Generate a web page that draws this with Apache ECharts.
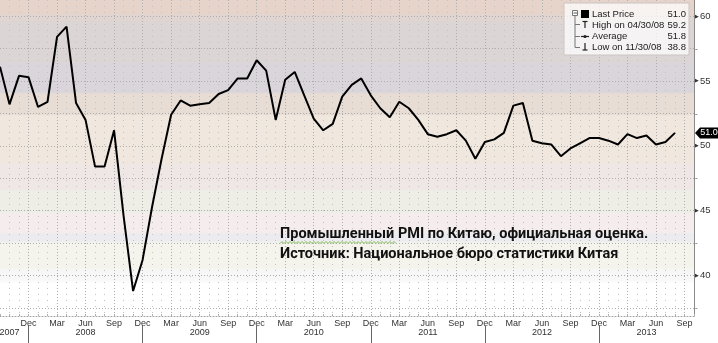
<!DOCTYPE html>
<html><head><meta charset="utf-8">
<script src="https://cdn.jsdelivr.net/npm/echarts@6/dist/echarts.min.js"></script>
<style>html,body{margin:0;padding:0;background:#fff}#c{width:718px;height:343px}</style>
</head><body><div id="c"></div>
<script>
const categories = [
 '2007-09','2007-10','2007-11','2007-12',
 '2008-01','2008-02','2008-03','2008-04','2008-05','2008-06','2008-07','2008-08','2008-09','2008-10','2008-11','2008-12',
 '2009-01','2009-02','2009-03','2009-04','2009-05','2009-06','2009-07','2009-08','2009-09','2009-10','2009-11','2009-12',
 '2010-01','2010-02','2010-03','2010-04','2010-05','2010-06','2010-07','2010-08','2010-09','2010-10','2010-11','2010-12',
 '2011-01','2011-02','2011-03','2011-04','2011-05','2011-06','2011-07','2011-08','2011-09','2011-10','2011-11','2011-12',
 '2012-01','2012-02','2012-03','2012-04','2012-05','2012-06','2012-07','2012-08','2012-09','2012-10','2012-11','2012-12',
 '2013-01','2013-02','2013-03','2013-04','2013-05','2013-06','2013-07','2013-08','2013-09','2013-10'
];
const pmi = [
 56.1,53.2,55.4,55.3,
 53.0,53.4,58.4,59.2,53.3,52.0,48.4,48.4,51.2,44.6,38.8,41.2,
 45.3,49.0,52.4,53.5,53.1,53.2,53.3,54.0,54.3,55.2,55.2,56.6,
 55.8,52.0,55.1,55.7,53.9,52.1,51.2,51.7,53.8,54.7,55.2,53.9,
 52.9,52.2,53.4,52.9,52.0,50.9,50.7,50.9,51.2,50.4,49.0,50.3,
 50.5,51.0,53.1,53.3,50.4,50.2,50.1,49.2,49.8,50.2,50.6,50.6,
 50.4,50.1,50.9,50.6,50.8,50.1,50.3,51.0
];
const monthTickLabels = {'03':'Mar','06':'Jun','09':'Sep','12':'Dec'};
const yearLabelAt = ['2007-10','2008-06','2009-06','2010-06','2011-06','2012-06','2013-05'];
const yMajorStep = 5, yGridStep = 2.5;
const legendNames = ['Last Price','High on','Average','Low on'];
const noteLines = ['Промышленный PMI по Китаю, официальная оценка.','Источник: Национальное бюро статистики Китая'];

// derived stats
const last = pmi[pmi.length-1];
const maxV = Math.max(...pmi), minV = Math.min(...pmi);
const avg = pmi.reduce((a,b)=>a+b,0)/pmi.length;
function endOfMonth(c){const y=+c.slice(0,4), m=+c.slice(5,7);const d=new Date(y,m,0).getDate();return c.slice(5,7)+'/'+d+'/'+c.slice(2,4);}
const maxDate = endOfMonth(categories[pmi.indexOf(maxV)]);
const minDate = endOfMonth(categories[pmi.indexOf(minV)]);

const isMult = (v,s)=>Math.abs(v/s-Math.round(v/s))<1e-6;
const mon = v=>v.slice(5,7);
const isQuarter = (i,v)=>i>0 && !!monthTickLabels[mon(v)];
const FONT = 'Liberation Sans';

const chart = echarts.init(document.getElementById('c'), null, {renderer:'canvas'});
const bands = [
 [0,'#e6d4cb'],[14,'#e6d4cb'],[15,'#e0d5d0'],[21,'#e0d5d0'],[22,'#dcd5d5'],[62,'#dcd5d5'],[63,'#dad5db'],[92,'#dad5db'],
 [94,'#e7ddd5'],[114,'#e7ddd5'],[116,'#f0e7de'],[163,'#f0e7de'],[165,'#efe6e6'],[189,'#efe6e6'],[191,'#eeeee7'],[212,'#eeeee7'],
 [214,'#f5eded'],[232,'#f5eded'],[234,'#ececf0'],[241,'#ececf0'],[243,'#f5f4ec'],[268,'#f5f4ec'],[270,'#f6f6f6'],[280,'#f8f8f8'],[284,'#ffffff'],[316,'#ffffff']
];
const bg = {type:'linear',x:0,y:0,x2:0,y2:1,colorStops:bands.map(b=>({offset:b[0]/316,color:b[1]}))};

const wavy = [];
for (let x=280, k=0; x<=397; x+=2, k++) wavy.push([x, k%2? 241.5:243.5]);

const option = {
  animation:false,
  backgroundColor:'#fff',
  grid:{left:0, top:0, right:24, bottom:27, show:true, borderWidth:0, backgroundColor:bg, containLabel:false, outerBoundsMode:'none'},
  xAxis:[{
    type:'category', data:categories, boundaryGap:false,
    axisLine:{show:true, lineStyle:{color:'#a0a0a0', type:[1,2]}},
    axisTick:{show:true, inside:true, length:2, interval:0, lineStyle:{color:'#b0b0b0'}},
    axisLabel:{interval:isQuarter, formatter:v=>monthTickLabels[mon(v)]||'', fontSize:9, color:'#333', margin:3, fontFamily:FONT},
    splitLine:{show:true, interval:isQuarter, lineStyle:{color:'#adadad', type:[1,2]}}
  },{
    type:'category', data:categories, boundaryGap:false, position:'bottom', offset:10,
    axisLine:{show:false},
    axisTick:{show:true, interval:(i,v)=>mon(v)==='12', length:17, lineStyle:{color:'#666'}},
    axisLabel:{interval:(i,v)=>yearLabelAt.includes(v), formatter:v=>v.slice(0,4), fontSize:9, color:'#333', margin:2, fontFamily:FONT},
    splitLine:{show:true, interval:(i,v)=>!monthTickLabels[mon(v)], lineStyle:{color:'#c2c2c2', type:[1,5]}}
  }],
  yAxis:{
    type:'value', position:'right', min:36.875, max:61.25, interval:0.625,
    axisLine:{show:true, lineStyle:{color:'#8a8a8a'}},
    axisTick:{show:false},
    splitLine:{show:true, lineStyle:{color:['rgba(0,0,0,0)','#adadad','rgba(0,0,0,0)','rgba(0,0,0,0)'], type:[1,2]}},
    axisLabel:{margin:1, fontFamily:FONT, color:'#333', fontSize:9,
      formatter:v=>isMult(v,yMajorStep)?'{t|▶}{n|'+Math.round(v)+'}':(isMult(v,yGridStep)?'{m|-}':''),
      rich:{t:{fontSize:5, color:'#333', padding:[0,1,0,0]}, n:{fontSize:9.5, color:'#333', fontFamily:FONT}, m:{fontSize:8, color:'#444'}}}
  },
  series:[{
    type:'line', data:pmi, xAxisIndex:0, symbol:'none', smooth:false,
    lineStyle:{color:'#000', width:2},
    markPoint:{
      symbol:'path://M0,5 L5,0 L24,0 L24,10 L5,10 Z', symbolSize:[24,11], symbolOffset:[13,0],
      itemStyle:{color:'#000'},
      label:{show:true, color:'#fff', fontSize:9, fontFamily:FONT, offset:[2,0], formatter:()=>last.toFixed(1)},
      data:[{coord:[categories[categories.length-1], last]}]
    }
  }],
  graphic:[
    {type:'rect', shape:{x:564, y:3, width:125, height:52}, style:{fill:'rgba(255,255,255,0.72)', stroke:'#cbc5c2', lineWidth:1}, z:10},
    {type:'rect', shape:{x:572.5, y:10.5, width:5, height:5}, style:{fill:'#fff', stroke:'#777', lineWidth:1}, z:11},
    {type:'line', shape:{x1:573.5, y1:13, x2:577, y2:13}, style:{stroke:'#555', lineWidth:1}, z:11},
    {type:'polyline', shape:{points:[[575,16],[575,47.5],[580,47.5]]}, style:{stroke:'#777', lineWidth:1, fill:null}, z:11},
    {type:'line', shape:{x1:575, y1:24.5, x2:580, y2:24.5}, style:{stroke:'#777', lineWidth:1}, z:11},
    {type:'line', shape:{x1:575, y1:36.5, x2:580, y2:36.5}, style:{stroke:'#777', lineWidth:1}, z:11},
    {type:'rect', shape:{x:581, y:10, width:8, height:8}, style:{fill:'#000'}, z:11},
    {type:'polyline', shape:{points:[[582.5,21.5],[587.5,21.5]]}, style:{stroke:'#222', lineWidth:1.2, fill:null}, z:11},
    {type:'line', shape:{x1:585, y1:21.5, x2:585, y2:28}, style:{stroke:'#222', lineWidth:1.2}, z:11},
    {type:'line', shape:{x1:581, y1:36.5, x2:589, y2:36.5}, style:{stroke:'#222', lineWidth:1.2}, z:11},
    {type:'circle', shape:{cx:585, cy:36.5, r:1.6}, style:{fill:'#222'}, z:11},
    {type:'line', shape:{x1:585, y1:43, x2:585, y2:50}, style:{stroke:'#222', lineWidth:1.2}, z:11},
    {type:'line', shape:{x1:582.5, y1:50, x2:587.5, y2:50}, style:{stroke:'#222', lineWidth:1.2}, z:11},
    {type:'text', x:592, y:14, style:{text:legendNames[0], font:'9.5px '+FONT, fill:'#1a1a1a', textVerticalAlign:'middle'}, z:11},
    {type:'text', x:592, y:25, style:{text:legendNames[1]+' '+maxDate, font:'9.5px '+FONT, fill:'#1a1a1a', textVerticalAlign:'middle'}, z:11},
    {type:'text', x:592, y:36, style:{text:legendNames[2], font:'9.5px '+FONT, fill:'#1a1a1a', textVerticalAlign:'middle'}, z:11},
    {type:'text', x:592, y:47, style:{text:legendNames[3]+' '+minDate, font:'9.5px '+FONT, fill:'#1a1a1a', textVerticalAlign:'middle'}, z:11},
    {type:'text', x:686, y:14, style:{text:last.toFixed(1), font:'9.5px '+FONT, fill:'#1a1a1a', textAlign:'right', textVerticalAlign:'middle'}, z:11},
    {type:'text', x:686, y:25, style:{text:maxV.toFixed(1), font:'9.5px '+FONT, fill:'#1a1a1a', textAlign:'right', textVerticalAlign:'middle'}, z:11},
    {type:'text', x:686, y:36, style:{text:avg.toFixed(1), font:'9.5px '+FONT, fill:'#1a1a1a', textAlign:'right', textVerticalAlign:'middle'}, z:11},
    {type:'text', x:686, y:47, style:{text:minV.toFixed(1), font:'9.5px '+FONT, fill:'#1a1a1a', textAlign:'right', textVerticalAlign:'middle'}, z:11},
    {type:'text', x:280, y:234, style:{text:noteLines[0], font:'bold 14.5px Roboto', fill:'#111', textVerticalAlign:'middle'}, z:12},
    {type:'text', x:280, y:254, style:{text:noteLines[1], font:'bold 14.5px Roboto', fill:'#111', textVerticalAlign:'middle'}, z:12},
    {type:'polyline', shape:{points:wavy}, style:{stroke:'#7dbb55', lineWidth:1, fill:null}, z:12}
  ]
};
chart.setOption(option);
</script></body></html>
